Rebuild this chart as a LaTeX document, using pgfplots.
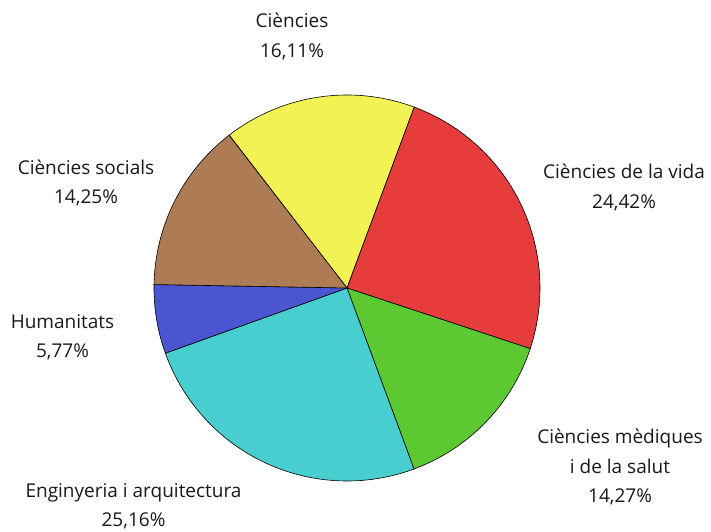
\documentclass[border=0pt]{standalone}
\usepackage{fontspec}
\setmainfont{Open Sans}
\usepackage{pgfplots}
\pgfplotsset{compat=1.18}
\definecolor{cYel}{HTML}{F2F255}
\definecolor{cRed}{HTML}{E63C3C}
\definecolor{cGrn}{HTML}{5CC832}
\definecolor{cCyn}{HTML}{48CECE}
\definecolor{cBlu}{HTML}{4B55D2}
\definecolor{cBrn}{HTML}{AE7C54}
% shares (%), clockwise from the start angle
\def\pA{16.11}\def\pB{24.42}\def\pC{14.27}\def\pD{25.16}\def\pE{5.77}\def\pF{14.25}
\def\startang{127.6}
\def\cx{347}\def\cy{243}\def\rr{193}
\begin{document}
\begin{tikzpicture}
\pgfmathsetmacro\aA{\startang}
\pgfmathsetmacro\aB{\aA-3.6*\pA}
\pgfmathsetmacro\aC{\aB-3.6*\pB}
\pgfmathsetmacro\aD{\aC-3.6*\pC}
\pgfmathsetmacro\aE{\aD-3.6*\pD}
\pgfmathsetmacro\aF{\aE-3.6*\pE}
\pgfmathsetmacro\aG{\aF-3.6*\pF}
\begin{axis}[name=ax,width=711pt,height=531pt,scale only axis,
  xmin=0,xmax=711,ymin=0,ymax=531,hide axis,clip=false]
\addplot[fill=cYel,draw=black,line width=0.6pt,domain=\aB:\aA,samples=80,variable=\t]
  ({\cx+\rr*cos(\t)},{\cy+\rr*sin(\t)}) -- (axis cs:\cx,\cy) -- cycle;
\addplot[fill=cRed,draw=black,line width=0.6pt,domain=\aC:\aB,samples=80,variable=\t]
  ({\cx+\rr*cos(\t)},{\cy+\rr*sin(\t)}) -- (axis cs:\cx,\cy) -- cycle;
\addplot[fill=cGrn,draw=black,line width=0.6pt,domain=\aD:\aC,samples=80,variable=\t]
  ({\cx+\rr*cos(\t)},{\cy+\rr*sin(\t)}) -- (axis cs:\cx,\cy) -- cycle;
\addplot[fill=cCyn,draw=black,line width=0.6pt,domain=\aE:\aD,samples=80,variable=\t]
  ({\cx+\rr*cos(\t)},{\cy+\rr*sin(\t)}) -- (axis cs:\cx,\cy) -- cycle;
\addplot[fill=cBlu,draw=black,line width=0.6pt,domain=\aF:\aE,samples=80,variable=\t]
  ({\cx+\rr*cos(\t)},{\cy+\rr*sin(\t)}) -- (axis cs:\cx,\cy) -- cycle;
\addplot[fill=cBrn,draw=black,line width=0.6pt,domain=\aG:\aF,samples=80,variable=\t]
  ({\cx+\rr*cos(\t)},{\cy+\rr*sin(\t)}) -- (axis cs:\cx,\cy) -- cycle;
\tikzset{lab/.style={align=center,font=\fontsize{19}{29.5}\selectfont,text=black!90,inner sep=0pt}}
\node[lab] at (axis cs:292,494.5) {Ciències\\16,11\%};
\node[lab] at (axis cs:624,343.5) {Ciències de la vida\\24,42\%};
\node[lab] at (axis cs:620,64) {Ciències mèdiques\\i de la salut\\14,27\%};
\node[lab] at (axis cs:133.5,25) {Enginyeria i arquitectura\\25,16\%};
\node[lab] at (axis cs:62.5,194) {Humanitats\\5,77\%};
\node[lab] at (axis cs:86,348) {Ciències socials\\14,25\%};
\end{axis}
\pgfresetboundingbox
\path (ax.south west) rectangle (ax.north east);
\end{tikzpicture}
\end{document}
